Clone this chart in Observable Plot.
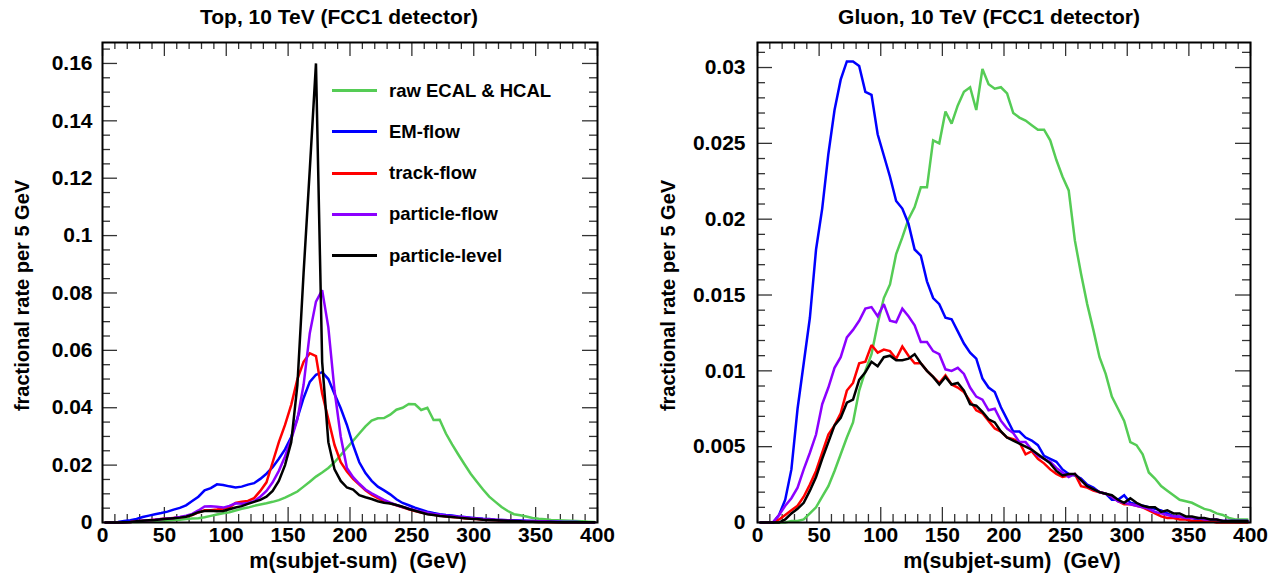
<!DOCTYPE html>
<html>
<head>
<meta charset="utf-8">
<script src="https://cdn.jsdelivr.net/npm/d3@7"></script>
<script src="https://cdn.jsdelivr.net/npm/@observablehq/plot@0.6"></script>
<style>
  html, body { margin: 0; padding: 0; background: #fff; }
  #wrap { position: relative; width: 1283px; height: 582px; overflow: hidden; font-family: "Liberation Sans", Arial, Helvetica, sans-serif; }
  .panel { position: absolute; top: 0; }
  #legend { position: absolute; left: 332px; top: 70px; font-weight: bold; font-size: 18.5px; color: #000; }
  #legend .row { display: flex; align-items: center; height: 41.25px; white-space: nowrap; }
  #legend .sw { width: 45px; height: 3px; margin-right: 12px; }
</style>
</head>
<body>
<div id="wrap">
  <div id="left" class="panel" style="left:0px"></div>
  <div id="right" class="panel" style="left:640px"></div>
  <div id="legend"></div>
</div>
<script>
// ---------------- data ----------------
const binCenters = [
  2.5, 7.5, 12.5, 17.5, 22.5, 27.5, 32.5, 37.5, 42.5, 47.5,
  52.5, 57.5, 62.5, 67.5, 72.5, 77.5, 82.5, 87.5, 92.5, 97.5,
  102.5, 107.5, 112.5, 117.5, 122.5, 127.5, 132.5, 137.5, 142.5, 147.5,
  152.5, 157.5, 162.5, 167.5, 172.5, 177.5, 182.5, 187.5, 192.5, 197.5,
  202.5, 207.5, 212.5, 217.5, 222.5, 227.5, 232.5, 237.5, 242.5, 247.5,
  252.5, 257.5, 262.5, 267.5, 272.5, 277.5, 282.5, 287.5, 292.5, 297.5,
  302.5, 307.5, 312.5, 317.5, 322.5, 327.5, 332.5, 337.5, 342.5, 347.5,
  352.5, 357.5, 362.5, 367.5, 372.5, 377.5, 382.5, 387.5, 392.5, 397.5
];

const seriesNames = ["raw ECAL & HCAL", "EM-flow", "track-flow", "particle-flow", "particle-level"];
const seriesColors = ["#55cc55", "#0000ff", "#ff0000", "#8c00ff", "#000000"];

// Top, 10 TeV
const topRaw = [
  0, 0, 0.0001, 0.0001, 0.0002, 0.0002, 0.0003, 0.0004, 0.0005, 0.0006,
  0.0007, 0.0009, 0.001, 0.0012, 0.0014, 0.0015, 0.0018, 0.0023, 0.0028, 0.0032,
  0.0036, 0.0042, 0.0048, 0.0052, 0.0058, 0.0063, 0.0067, 0.0072, 0.0078, 0.0087,
  0.0097, 0.0108, 0.0125, 0.0142, 0.016, 0.0174, 0.019, 0.021, 0.0235, 0.026,
  0.0285, 0.031, 0.0335, 0.0355, 0.0363, 0.0364, 0.0376, 0.0393, 0.04, 0.0413,
  0.0412, 0.0392, 0.04, 0.0357, 0.0358, 0.031, 0.0272, 0.0237, 0.0203, 0.017,
  0.0142, 0.0115, 0.009, 0.0072, 0.0054, 0.004, 0.0029, 0.0025, 0.0021, 0.0016,
  0.0013, 0.0011, 0.0009, 0.0008, 0.0007, 0.0006, 0.0005, 0.0004, 0.0003, 0.0002
];
const topEM = [
  0, 0, 0.0002, 0.0005, 0.0008, 0.0012, 0.0019, 0.0024, 0.0029, 0.0033,
  0.0038, 0.0045, 0.0051, 0.006, 0.0075, 0.009, 0.0112, 0.012, 0.0133, 0.0131,
  0.0126, 0.0122, 0.0125, 0.0132, 0.0137, 0.0152, 0.017, 0.0193, 0.0222, 0.0255,
  0.0298, 0.0364, 0.0434, 0.049, 0.0515, 0.0524, 0.05, 0.0448, 0.0398, 0.034,
  0.027, 0.021, 0.0172, 0.0145, 0.0125, 0.0112, 0.0098, 0.0081, 0.0068, 0.006,
  0.0052, 0.0045, 0.0038, 0.0033, 0.0029, 0.0026, 0.0024, 0.0021, 0.0019, 0.0017,
  0.0015, 0.0013, 0.0012, 0.001, 0.0009, 0.0008, 0.0008, 0.0007, 0.0006, 0.0005,
  0.0004, 0.0004, 0.0003, 0.0003, 0.0002, 0.0002, 0.0002, 0.0001, 0.0001, 0.0001
];
const topTrack = [
  0, 0, 0, 0.0001, 0.0002, 0.0004, 0.0006, 0.0008, 0.001, 0.0012,
  0.0014, 0.0016, 0.0018, 0.0021, 0.0026, 0.0035, 0.0043, 0.0043, 0.0045, 0.0048,
  0.0052, 0.0068, 0.0072, 0.0075, 0.0085, 0.011, 0.014, 0.021, 0.028, 0.034,
  0.041, 0.05, 0.056, 0.059, 0.058, 0.045, 0.036, 0.027, 0.021, 0.0178,
  0.0152, 0.0132, 0.0112, 0.0097, 0.0085, 0.0075, 0.0067, 0.006, 0.0053, 0.0046,
  0.004, 0.0035, 0.003, 0.0027, 0.0024, 0.0021, 0.0019, 0.0017, 0.0015, 0.0013,
  0.0012, 0.001, 0.0009, 0.0008, 0.0006, 0.0005, 0.0004, 0.0004, 0.0003, 0.0003,
  0.0002, 0.0002, 0.0001, 0.0001, 0.0001, 0.0001, 0.0001, 0.0001, 0.0001, 0.0001
];
const topPF = [
  0, 0, 0, 0.0001, 0.0002, 0.0004, 0.0006, 0.0008, 0.001, 0.0012,
  0.0014, 0.0016, 0.0019, 0.0024, 0.003, 0.0042, 0.0056, 0.0057, 0.0055, 0.0052,
  0.0058, 0.0067, 0.0065, 0.0068, 0.0074, 0.009, 0.011, 0.014, 0.018, 0.023,
  0.029, 0.036, 0.048, 0.066, 0.077, 0.081, 0.068, 0.046, 0.03, 0.019,
  0.0158, 0.0135, 0.0115, 0.0102, 0.009, 0.0079, 0.0069, 0.0061, 0.0054, 0.0049,
  0.0043, 0.0038, 0.0034, 0.003, 0.0027, 0.0024, 0.0022, 0.002, 0.0018, 0.0016,
  0.0014, 0.0012, 0.0011, 0.001, 0.0009, 0.0008, 0.0007, 0.0006, 0.0005, 0.0005,
  0.0004, 0.0004, 0.0003, 0.0003, 0.0002, 0.0002, 0.0002, 0.0001, 0.0001, 0.0001
];
const topParticle = [
  0, 0, 0, 0.0001, 0.0002, 0.0004, 0.0006, 0.0008, 0.0009, 0.0011,
  0.0013, 0.0015, 0.0017, 0.002, 0.0027, 0.0036, 0.004, 0.0041, 0.0039, 0.004,
  0.0046, 0.0052, 0.0057, 0.0065, 0.0072, 0.0079, 0.009, 0.011, 0.0145, 0.02,
  0.028, 0.048, 0.087, 0.123, 0.16, 0.056, 0.028, 0.0185, 0.0145, 0.0122,
  0.0115, 0.0095, 0.0088, 0.0082, 0.0074, 0.0069, 0.0066, 0.0061, 0.0055, 0.0047,
  0.0041, 0.0035, 0.0029, 0.0026, 0.0023, 0.0021, 0.0019, 0.0017, 0.0015, 0.0013,
  0.0012, 0.001, 0.0009, 0.0008, 0.0007, 0.0006, 0.0005, 0.0004, 0.0003, 0.0003,
  0.0002, 0.0002, 0.0002, 0.0001, 0.0001, 0.0001, 0.0001, 0.0001, 0.0001, 0.0001
];

// Gluon, 10 TeV
const gluonRaw = [
  0, 0, 0, 0, 0, 0.0001, 0.0001, 0.0002, 0.0006, 0.001,
  0.0017, 0.0024, 0.0034, 0.0045, 0.0056, 0.0066, 0.0087, 0.01, 0.0111, 0.0131,
  0.0148, 0.0157, 0.0177, 0.0188, 0.02, 0.0208, 0.0221, 0.0221, 0.0252, 0.025,
  0.0271, 0.0263, 0.0275, 0.0284, 0.0287, 0.0272, 0.0299, 0.0289, 0.0286, 0.0287,
  0.0283, 0.027, 0.0267, 0.0265, 0.0262, 0.0259, 0.0259, 0.0252, 0.0239, 0.0228,
  0.0219, 0.0186, 0.0164, 0.0144, 0.0127, 0.0109, 0.0098, 0.0083, 0.0075, 0.0067,
  0.0053, 0.0051, 0.0045, 0.0033, 0.0029, 0.0024, 0.0021, 0.0018, 0.0015, 0.0014,
  0.0013, 0.0011, 0.0009, 0.0008, 0.0006, 0.0005, 0.0003, 0.0002, 0.0002, 0.0002
];
const gluonEM = [
  0, 0, 0, 0.0005, 0.0015, 0.0035, 0.0075, 0.0105, 0.0135, 0.018,
  0.0207, 0.0243, 0.0272, 0.0292, 0.0304, 0.0304, 0.0301, 0.0284, 0.0282, 0.0256,
  0.0242, 0.0228, 0.0212, 0.0207, 0.0197, 0.018, 0.0176, 0.0159, 0.0148, 0.0144,
  0.0135, 0.0134, 0.0126, 0.0118, 0.0112, 0.0108, 0.0095, 0.0089, 0.0086, 0.0076,
  0.0068, 0.006, 0.006, 0.0056, 0.0054, 0.0051, 0.0044, 0.0042, 0.004, 0.0035,
  0.0032, 0.0031, 0.0029, 0.0025, 0.0023, 0.002, 0.0019, 0.0015, 0.0015, 0.0018,
  0.0013, 0.0012, 0.0011, 0.001, 0.0009, 0.0008, 0.0006, 0.0004, 0.0004, 0.0003,
  0.0003, 0.0002, 0.0002, 0.0001, 0.0001, 0.0001, 0.0001, 0.0001, 0.0001, 0.0001
];
const gluonTrack = [
  0, 0, 0, 0.0002, 0.0005, 0.0008, 0.0011, 0.0017, 0.0025, 0.0034,
  0.0046, 0.0058, 0.0064, 0.0072, 0.0087, 0.0092, 0.0105, 0.0106, 0.0117, 0.0112,
  0.0114, 0.0113, 0.0108, 0.0116, 0.011, 0.0105, 0.0105, 0.01, 0.0096, 0.0092,
  0.0097, 0.0091, 0.0089, 0.0086, 0.008, 0.0074, 0.0072, 0.0067, 0.0062, 0.006,
  0.0056, 0.0055, 0.0053, 0.0045, 0.0047, 0.0042, 0.0039, 0.0035, 0.0032, 0.003,
  0.0031, 0.0032, 0.0024, 0.0023, 0.0021, 0.002, 0.0019, 0.0017, 0.0014, 0.0012,
  0.0012, 0.0011, 0.001, 0.0008, 0.0006, 0.0004, 0.0003, 0.0003, 0.0002, 0.0002,
  0.0001, 0.0001, 0.0001, 0.0001, 0, 0, 0, 0, 0, 0
];
const gluonPF = [
  0, 0, 0, 0.0005, 0.0011, 0.0016, 0.0023, 0.0035, 0.0046, 0.0058,
  0.0078, 0.0089, 0.0102, 0.0109, 0.0122, 0.0127, 0.0133, 0.0141, 0.0142, 0.0136,
  0.0144, 0.0133, 0.0132, 0.0141, 0.0136, 0.013, 0.0119, 0.0119, 0.0113, 0.0111,
  0.0101, 0.01, 0.0102, 0.0098, 0.0089, 0.0083, 0.0081, 0.0074, 0.0075, 0.0067,
  0.0062, 0.0059, 0.0053, 0.0053, 0.0048, 0.0044, 0.0042, 0.004, 0.0036, 0.0033,
  0.003, 0.0032, 0.0028, 0.0024, 0.0022, 0.002, 0.0019, 0.0017, 0.0014, 0.0013,
  0.0012, 0.0011, 0.001, 0.0009, 0.0007, 0.0006, 0.0005, 0.0004, 0.0004, 0.0003,
  0.0003, 0.0003, 0.0002, 0.0002, 0.0002, 0.0001, 0.0001, 0.0001, 0.0001, 0.0001
];
const gluonParticle = [
  0, 0, 0, 0, 0.0002, 0.0006, 0.0009, 0.0013, 0.0021, 0.003,
  0.0042, 0.0053, 0.0064, 0.0069, 0.0079, 0.0081, 0.0094, 0.0099, 0.0106, 0.0103,
  0.0109, 0.011, 0.0107, 0.0107, 0.0108, 0.0111, 0.0105, 0.01, 0.0096, 0.0091,
  0.0096, 0.0091, 0.0092, 0.0087, 0.0078, 0.0077, 0.0073, 0.0068, 0.0066, 0.006,
  0.0056, 0.0054, 0.0052, 0.005, 0.0048, 0.0045, 0.0042, 0.0039, 0.0034, 0.0031,
  0.0032, 0.0032, 0.0028, 0.0024, 0.0022, 0.002, 0.0019, 0.0018, 0.0015, 0.0013,
  0.0016, 0.0013, 0.0011, 0.001, 0.001, 0.0007, 0.0008, 0.0006, 0.0006, 0.0004,
  0.0004, 0.0003, 0.0003, 0.0002, 0.0002, 0.0001, 0.0001, 0.0001, 0.0001, 0.0001
];

// ticks & labels
const xMajorTicks = [0, 50, 100, 150, 200, 250, 300, 350, 400];
const xTickLabels = ["0", "50", "100", "150", "200", "250", "300", "350", "400"];
const topYMajorTicks = [0, 0.02, 0.04, 0.06, 0.08, 0.1, 0.12, 0.14, 0.16];
const topYTickLabels = ["0", "0.02", "0.04", "0.06", "0.08", "0.1", "0.12", "0.14", "0.16"];
const gluonYMajorTicks = [0, 0.005, 0.01, 0.015, 0.02, 0.025, 0.03];
const gluonYTickLabels = ["0", "0.005", "0.01", "0.015", "0.02", "0.025", "0.03"];

const titles = ["Top, 10 TeV (FCC1 detector)", "Gluon, 10 TeV (FCC1 detector)"];
const xTitle = "m(subjet-sum)  (GeV)";
const yTitle = "fractional rate per 5 GeV";

// ---------------- drawing ----------------
const FONT = "Liberation Sans, Arial, Helvetica, sans-serif";
const drawOrder = [0, 1, 2, 3, 4];

function table(seriesArrays) {
  const rows = [];
  seriesArrays.forEach((vals, si) => {
    vals.forEach((v, i) => rows.push({series: seriesNames[si], m: binCenters[i], v}));
  });
  return rows;
}

function panel(cfg) {
  const H = 582, mt = 42, mb = 60;
  const fw = cfg.width - cfg.ml - cfg.mr;
  const fh = H - mt - mb;
  const xMinor = d3.range(0, 401, 10).filter(d => d % 50 !== 0);
  const yMinor = d3.range(0, cfg.yMax, cfg.yMinorStep).filter(d => !cfg.yMajor.some(t => Math.abs(t - d) < 1e-9));
  const rows = table(cfg.series);
  const labelOf = (ticks, labels) => d => labels[ticks.findIndex(t => Math.abs(t - d) < 1e-9)];
  const tickStyle = {stroke: "#333", strokeWidth: 1.3};
  const marks = [
    Plot.tickY(cfg.yMajor, {y: d => d, insetRight: fw - 15, ...tickStyle}),
    Plot.tickY(yMinor, {y: d => d, insetRight: fw - 8, ...tickStyle}),
    Plot.tickY(cfg.yMajor, {y: d => d, insetLeft: fw - 15, ...tickStyle}),
    Plot.tickY(yMinor, {y: d => d, insetLeft: fw - 8, ...tickStyle}),
    Plot.tickX(xMajorTicks, {x: d => d, insetTop: fh - 15, ...tickStyle}),
    Plot.tickX(xMinor, {x: d => d, insetTop: fh - 8, ...tickStyle}),
    Plot.tickX(xMajorTicks, {x: d => d, insetBottom: fh - 14, ...tickStyle}),
    Plot.tickX(xMinor, {x: d => d, insetBottom: fh - 7, ...tickStyle}),
    ...drawOrder.map(si => Plot.line(rows.filter(r => r.series === seriesNames[si]), {
      x: "m", y: "v", stroke: seriesColors[si], strokeWidth: 2.5, strokeLinejoin: "miter", strokeMiterlimit: 2
    })),
    Plot.frame({stroke: "black", strokeWidth: 2}),
    Plot.axisX(xMajorTicks, {anchor: "bottom", tickSize: 0, tickPadding: 5, label: null,
      tickFormat: labelOf(xMajorTicks, xTickLabels), fontSize: 21, fontWeight: "bold", fill: "black"}),
    Plot.axisY(cfg.yMajor, {anchor: "left", tickSize: 0, tickPadding: cfg.yPad, label: null,
      tickFormat: labelOf(cfg.yMajor, cfg.yLabels), fontSize: 21, fontWeight: "bold", fill: "black"}),
    Plot.text([cfg.title], {text: d => d, frameAnchor: "top", dy: -25, dx: cfg.titleDx, fontSize: 21, fontWeight: "bold", textAnchor: "middle", lineAnchor: "middle", fill: "black"}),
    Plot.text([xTitle], {text: d => d, frameAnchor: "bottom", dy: 39, dx: 8, fontSize: 21.5, fontWeight: "bold", textAnchor: "middle", lineAnchor: "middle", fill: "black"}),
    Plot.text([yTitle], {text: d => d, frameAnchor: "left", dx: cfg.yTitleDx, dy: 13, rotate: -90, fontSize: 20, fontWeight: "bold", textAnchor: "middle", lineAnchor: "middle", fill: "black"})
  ];
  return Plot.plot({
    width: cfg.width, height: H,
    marginLeft: cfg.ml, marginRight: cfg.mr, marginTop: mt, marginBottom: mb,
    x: {domain: [0, 400]},
    y: {domain: [0, cfg.yMax]},
    style: {fontFamily: FONT, fontWeight: "bold", background: "white", color: "black", overflow: "visible"},
    marks
  });
}

document.getElementById("left").appendChild(panel({
  width: 640, ml: 102, mr: 43, yMax: 0.1673, yMinorStep: 0.005, yPad: 10,
  yMajor: topYMajorTicks, yLabels: topYTickLabels, title: titles[0], titleDx: -11, yTitleDx: -80,
  series: [topRaw, topEM, topTrack, topPF, topParticle]
}));
document.getElementById("right").appendChild(panel({
  width: 643, ml: 117, mr: 33, yMax: 0.03165, yMinorStep: 0.001, yPad: 12,
  yMajor: gluonYMajorTicks, yLabels: gluonYTickLabels, title: titles[1], titleDx: -15, yTitleDx: -89,
  series: [gluonRaw, gluonEM, gluonTrack, gluonPF, gluonParticle]
}));

const legend = d3.select("#legend");
seriesNames.forEach((name, i) => {
  const row = legend.append("div").attr("class", "row");
  row.append("div").attr("class", "sw").style("background", seriesColors[i]);
  row.append("span").text(name);
});
</script>
</body>
</html>
